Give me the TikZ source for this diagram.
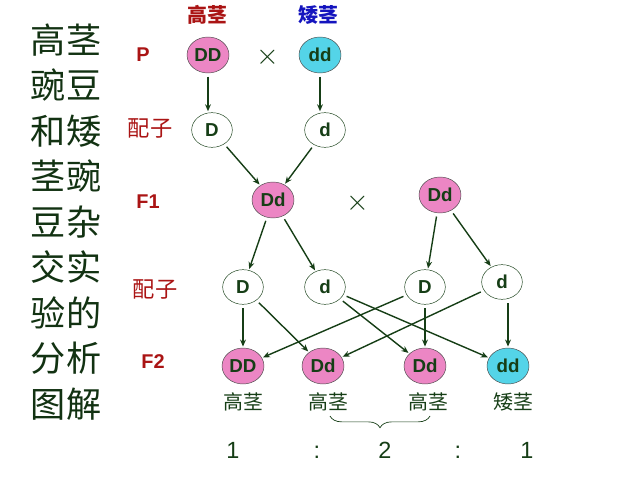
\documentclass[tikz,border=0pt]{standalone}
\usepackage{fontspec}
\setmainfont{Liberation Sans}
\newfontfamily\cjk{Noto Sans CJK SC}
\usetikzlibrary{shapes.geometric,arrows.meta,decorations.pathreplacing}
\definecolor{leafgreen}{RGB}{22,62,22}
\definecolor{pinkfill}{RGB}{236,134,196}
\definecolor{cyanfill}{RGB}{84,212,232}
\definecolor{labelred}{RGB}{170,20,20}
\definecolor{labelblue}{RGB}{20,20,190}
\begin{document}
\begin{tikzpicture}[
    x=0.03cm, y=-0.03cm,
    every node/.style={font=\fontsize{16}{18}\selectfont\bfseries, text=leafgreen},
    tallbox/.style={ellipse, draw=gray!60!black, fill=pinkfill, minimum width=1.26cm, minimum height=1.08cm, inner sep=0pt},
    dwarfbox/.style={tallbox, fill=cyanfill},
    gametebox/.style={ellipse, draw=leafgreen, fill=white, minimum width=1.22cm, minimum height=1.04cm, inner sep=0pt},
    genlabel/.style={text=labelred, font=\fontsize{17}{19}\selectfont\bfseries},
    gamlabel/.style={text=labelred, font=\fontsize{19}{21}\selectfont\cjk},
    traitlabel/.style={font=\fontsize{17}{19}\selectfont\cjk},
    ratiolabel/.style={font=\fontsize{20}{22}\selectfont},
    crosssign/.style={font=\fontsize{24}{26}\selectfont},
    flowarrow/.style={-{Stealth[length=6pt,width=5pt]}, line width=1.2pt, draw=leafgreen, shorten <=3pt, shorten >=1pt},
]
\useasboundingbox (0,0) rectangle (638,479);

% title column
\node[align=center, text=leafgreen!80!black, font=\fontsize{30}{38.8}\selectfont\cjk] (title) at (66,222)
  {高茎\\豌豆\\和矮\\茎豌\\豆杂\\交实\\验的\\分析\\图解};

% generation labels
\node[genlabel] (lp) at (143,55) {P};
\node[gamlabel] (lg1) at (150,128) {配子};
\node[genlabel] (lf1) at (148,202) {F1};
\node[gamlabel] (lg2) at (155,289) {配子};
\node[genlabel] (lf2) at (153,362) {F2};

% parents
\node[text=labelred, font=\fontsize{17}{19}\selectfont\cjk\bfseries] (ptall) at (207,15) {高茎};
\node[text=labelblue, font=\fontsize{17}{19}\selectfont\cjk\bfseries] (pdwarf) at (318,15) {矮茎};
\node[tallbox] (P1) at (208,55) {DD};
\node[crosssign] (x1) at (268,57) {$\times$};
\node[dwarfbox] (P2) at (320,55) {dd};

% gametes of P
\node[gametebox] (G1) at (212,130) {D};
\node[gametebox] (G2) at (325,130) {d};
\draw[flowarrow] (P1.south) -- (P1.south |- G1.north);
\draw[flowarrow] (P2.south) -- (P2.south |- G2.north);

% F1
\node[tallbox] (F1a) at (273,200) {Dd};
\node[crosssign] (x2) at (358,203) {$\times$};
\node[tallbox] (F1b) at (440,195) {Dd};
\draw[flowarrow] (G1) -- (F1a);
\draw[flowarrow] (G2) -- (F1a);

% gametes of F1
\node[gametebox] (H1) at (243,287) {D};
\node[gametebox] (H2) at (325,287) {d};
\node[gametebox] (H3) at (425,287) {D};
\node[gametebox] (H4) at (502,282) {d};
\draw[flowarrow] (F1a) -- (H1);
\draw[flowarrow] (F1a) -- (H2);
\draw[flowarrow] (F1b) -- (H3);
\draw[flowarrow] (F1b) -- (H4);

% F2
\node[tallbox] (K1) at (243,366) {DD};
\node[tallbox] (K2) at (323,366) {Dd};
\node[tallbox] (K3) at (425,366) {Dd};
\node[dwarfbox] (K4) at (508,366) {dd};
\draw[flowarrow] (H1) -- (K1);
\draw[flowarrow] (H1) -- (K2);
\draw[flowarrow] (H2) -- (K3);
\draw[flowarrow] (H2) -- (K4);
\draw[flowarrow] (H3) -- (K1);
\draw[flowarrow] (H3) -- (K3);
\draw[flowarrow] (H4) -- (K2);
\draw[flowarrow] (H4.south -| K4.north) -- (K4.north);

% traits and ratio
\node[traitlabel] (t1) at (243,402) {高茎};
\node[traitlabel] (t2) at (328,402) {高茎};
\node[traitlabel] (t3) at (428,402) {高茎};
\node[traitlabel] (t4) at (513,402) {矮茎};
\coordinate (bl) at (330,416);
\coordinate (br) at (430,416);
\draw[leafgreen, line width=0.6pt, decorate, decoration={brace, mirror, amplitude=10pt}] (bl) -- (br);
\node[ratiolabel] (r1) at (233,450) {1};
\node[ratiolabel] (c1) at (317,452) {:};
\node[ratiolabel] (r2) at (385,450) {2};
\node[ratiolabel] (c2) at (458,452) {:};
\node[ratiolabel] (r3) at (527,450) {1};
\end{tikzpicture}
\end{document}
